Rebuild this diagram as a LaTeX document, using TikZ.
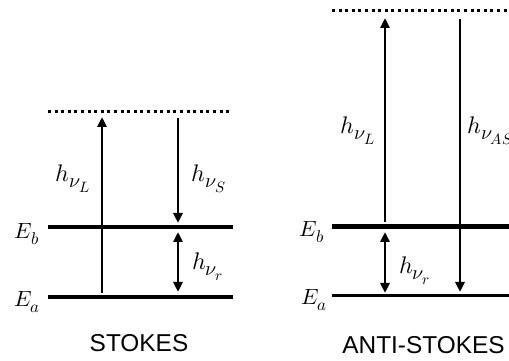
\documentclass[tikz,border=0pt]{standalone}
\usepackage{fontspec}
\usepackage{unicode-math}
\setmathfont{Latin Modern Math}
\setsansfont{Liberation Sans}
\DeclareMathSizes{24}{24}{20}{15}
\DeclareMathSizes{22}{22}{17}{12}
\usetikzlibrary{positioning,arrows.meta,calc}

\begin{document}
\begin{tikzpicture}[x=1pt,y=1pt,
    level/.style={line width=3.5pt},
    virtual/.style={line width=3pt, dash pattern=on 3pt off 3.6pt},
    trans/.style={line width=2.6pt, -{Triangle[width=9pt,length=10pt]}},
    both/.style={line width=2.6pt, {Triangle[width=9pt,length=10pt]}-{Triangle[width=9pt,length=10pt]}},
    lbl/.style={font=\fontsize{24}{28}\selectfont},
    elbl/.style={font=\fontsize{22}{26}\selectfont},
    title/.style={font=\sffamily\fontsize{24.4}{28}\selectfont}]
  \useasboundingbox (0,0) rectangle (509,361);
  % Stokes
  \coordinate (sV1) at (48,249);  \coordinate (sV2) at (231,249);
  \coordinate (sB1) at (48,134);  \coordinate (sB2) at (233,134);
  \coordinate (sA1) at (48,64);   \coordinate (sA2) at (233,64);
  \draw[virtual] (sV1) -- (sV2);
  \draw[level] (sB1) -- (sB2);
  \draw[level] (sA1) -- (sA2);
  \coordinate (sL0) at (102,68);  \coordinate (sL1) at (102,244);
  \coordinate (sS0) at (178,243); \coordinate (sS1) at (178,138);
  \coordinate (sR0) at (178,129); \coordinate (sR1) at (178,69);
  \draw[trans] (sL0) -- (sL1);
  \draw[trans] (sS0) -- (sS1);
  \draw[both] (sR0) -- (sR1);
  \node[elbl] (sEb) at (27,127) {$E_b$};
  \node[elbl] (sEa) at (27,59) {$E_a$};
  \node[lbl] (shL) at (73,182) {$h_{\nu_L}$};
  \node[lbl] (shS) at (209,182) {$h_{\nu_S}$};
  \node[lbl] (shR) at (208,94) {$h_{\nu_r}$};
  \node[title] (stokes) at (139,17.5) {STOKES};
  % Anti-Stokes
  \coordinate (aV1) at (332,350); \coordinate (aV2) at (512,350);
  \coordinate (aB1) at (332,134); \coordinate (aB2) at (512,134);
  \coordinate (aA1) at (332,65);  \coordinate (aA2) at (512,65);
  \draw[virtual] (aV1) -- (aV2);
  \draw[level, line width=5pt] (aB1) -- (aB2);
  \draw[level, line width=3pt] (aA1) -- (aA2);
  \coordinate (aL0) at (385,139); \coordinate (aL1) at (385,343);
  \coordinate (aS0) at (460,342); \coordinate (aS1) at (460,69);
  \coordinate (aR0) at (385,129); \coordinate (aR1) at (385,68);
  \draw[trans] (aL0) -- (aL1);
  \draw[trans] (aS0) -- (aS1);
  \draw[both] (aR0) -- (aR1);
  \node[elbl] (aEb) at (312,129) {$E_b$};
  \node[elbl] (aEa) at (314,61) {$E_a$};
  \node[lbl] (ahL) at (358,230) {$h_{\nu_L}$};
  \node[lbl, anchor=west, inner sep=0pt] (ahAS) at (467,230) {$h_{\nu_{AS}}$};
  \node[lbl] (ahR) at (415,90) {$h_{\nu_r}$};
  \node[title] (antistokes) at (423.5,16) {ANTI-STOKES};
\end{tikzpicture}
\end{document}
